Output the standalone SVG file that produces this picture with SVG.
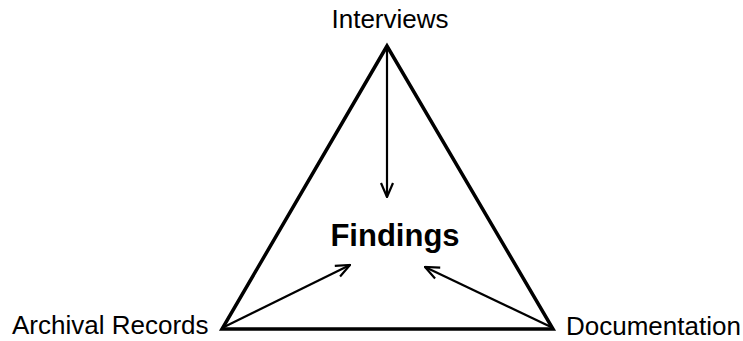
<svg xmlns="http://www.w3.org/2000/svg" width="743" height="341" viewBox="0 0 743 341">
<defs>
<style>
.lbl{font-family:"Liberation Sans",Arial,sans-serif;font-size:26px;fill:#000}
.conn{stroke:#000;stroke-width:2.2;fill:none}
</style>
<marker id="ah" viewBox="0 0 16 16" refX="15" refY="8" markerWidth="16" markerHeight="16" markerUnits="userSpaceOnUse" orient="auto">
<path d="M1,2 L15,8 L1,14" fill="none" stroke="#000" stroke-width="2.2"/>
</marker>
</defs>
<rect width="743" height="341" fill="#fff"/>
<g id="triangle">
<polygon points="387,46 222,329 553,329" fill="none" stroke="#000" stroke-width="3.5" stroke-linejoin="miter"/>
</g>
<g id="connectors">
<line class="conn" x1="387" y1="48" x2="387" y2="197" marker-end="url(#ah)"/>
<line class="conn" x1="224" y1="327" x2="350" y2="265" marker-end="url(#ah)"/>
<line class="conn" x1="551" y1="327" x2="425" y2="267" marker-end="url(#ah)"/>
</g>
<g id="interviews"><text class="lbl" x="390" y="28" text-anchor="middle">Interviews</text></g>
<g id="findings"><text class="lbl" x="395" y="246" text-anchor="middle" style="font-weight:bold;font-size:31px">Findings</text></g>
<g id="archival"><text class="lbl" x="12" y="334">Archival Records</text></g>
<g id="documentation"><text class="lbl" x="566" y="335">Documentation</text></g>
</svg>
